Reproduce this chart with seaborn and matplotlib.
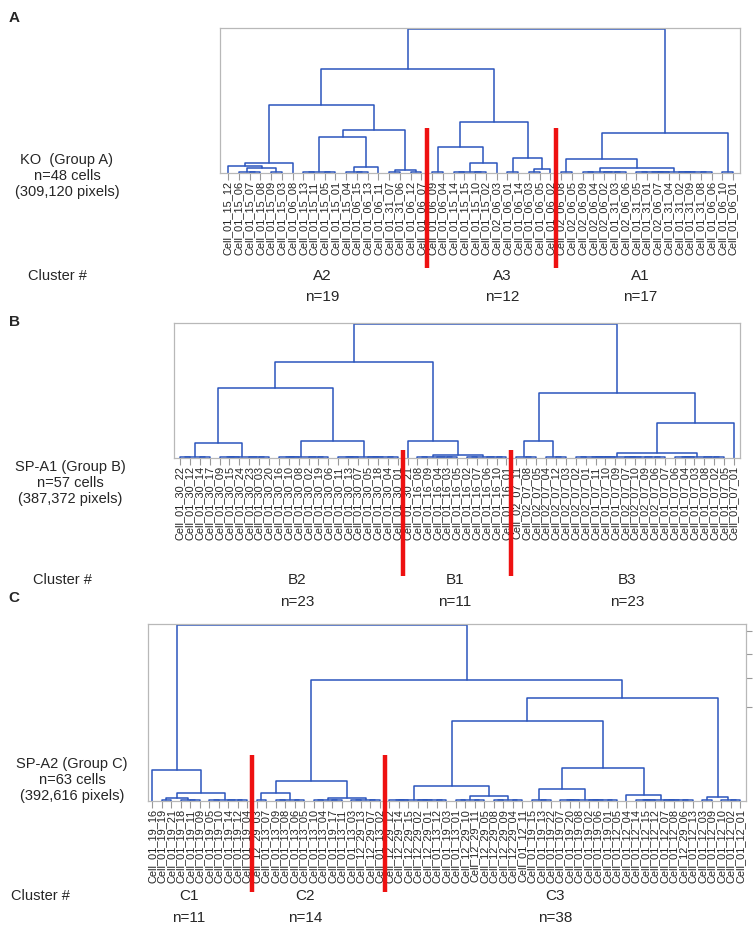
import numpy as np
import pandas as pd
import seaborn as sns
import matplotlib.pyplot as plt

sns.set_theme(style='white')
plt.rcParams['font.family'] = ['Liberation Sans', 'DejaVu Sans']

# Leaf order of each dendrogram (left to right).
a_leaves = ['01_15_12', '01_15_06', '01_15_07', '01_15_08', '01_15_09', '01_15_03', '01_06_08',
            '01_15_13', '01_15_11', '01_15_05', '01_15_01', '01_15_04', '01_06_15', '01_06_13',
            '01_06_11', '01_31_07', '01_31_06', '01_06_12', '01_06_07',
            '01_06_09', '01_06_04', '01_15_14', '01_15_15', '01_15_10', '01_15_02', '02_06_03',
            '01_06_01', '01_06_14', '01_06_03', '01_06_05', '01_06_02',
            '02_06_08', '02_06_05', '02_06_09', '02_06_04', '02_06_02', '01_31_03', '02_06_06',
            '01_31_05', '01_31_01', '02_06_07', '01_31_04', '01_31_02', '01_31_09', '01_31_08',
            '01_06_06', '01_06_10', '01_06_01']
b_leaves = ['01_30_22', '01_30_12', '01_30_14', '01_30_17', '01_30_09', '01_30_15', '01_30_24',
            '01_30_23', '01_30_03', '01_30_20', '01_30_16', '01_30_10', '01_30_08', '01_30_02',
            '01_30_19', '01_30_06', '01_30_11', '01_30_13', '01_30_07', '01_30_05', '01_30_18',
            '01_30_04', '01_30_01',
            '01_30_21', '01_16_08', '01_16_09', '01_16_04', '01_16_03', '01_16_05', '01_16_02',
            '01_16_07', '01_16_06', '01_16_10', '01_16_01',
            '02_07_11', '02_07_08', '02_07_05', '02_07_04', '02_07_12', '02_07_03', '02_07_02',
            '02_07_01', '01_07_11', '01_07_10', '01_07_09', '02_07_07', '02_07_10', '02_07_09',
            '02_07_06', '01_07_07', '01_07_06', '01_07_04', '01_07_03', '01_07_08', '01_07_02',
            '01_07_05', '01_07_01']
c_leaves = ['01_19_16', '01_19_19', '01_19_21', '01_19_18', '01_19_11', '01_19_09', '01_19_05',
            '01_19_10', '01_19_14', '01_19_12', '01_19_04',
            '12_29_03', '01_13_07', '01_13_09', '01_13_08', '01_13_06', '01_13_05', '01_13_10',
            '01_13_04', '01_19_17', '01_13_11', '01_13_03', '12_29_13', '12_29_07', '01_13_02',
            '12_29_12', '12_29_14', '12_29_15', '12_29_02', '12_29_01', '01_13_12', '01_19_03',
            '01_13_01', '12_29_10', '12_29_11', '12_29_05', '12_29_08', '12_29_09', '12_29_04',
            '01_12_11', '01_19_15', '01_19_13', '01_19_22', '01_19_07', '01_19_20', '01_19_08',
            '01_19_02', '01_19_06', '01_19_01', '01_12_05', '01_12_04', '01_12_14', '01_12_15',
            '01_12_12', '01_12_07', '01_12_08', '12_29_06', '01_12_13', '01_12_03', '01_12_09',
            '01_12_10', '01_12_02', '01_12_01']

# Merges: (first leaf, split leaf, end leaf, height in % of the top merge).
a_merges = [(0, 31, 48, 100), (0, 19, 31, 72), (0, 7, 19, 47.6), (7, 15, 19, 30),
            (7, 11, 15, 25), (11, 14, 15, 4), (15, 17, 19, 2), (0, 6, 7, 7), (0, 1, 6, 5),
            (1, 4, 6, 3.5), (19, 26, 31, 35.7), (19, 21, 26, 18), (21, 25, 26, 7),
            (26, 28, 31, 10.5), (28, 30, 31, 3),
            (31, 46, 48, 28), (31, 33, 46, 9.8), (33, 38, 46, 3.5)]
b_merges = [(0, 34, 57, 100), (0, 23, 34, 72), (0, 10, 23, 52.6), (0, 4, 10, 11.3),
            (10, 16, 23, 12.8), (23, 24, 34, 12.8), (24, 29, 34, 2), (34, 40, 57, 48.9),
            (34, 37, 40, 12.8), (40, 56, 57, 26.3), (40, 50, 56, 4)]
c_merges = [(0, 11, 63, 100), (0, 1, 11, 17.5), (1, 6, 11, 4.5), (1, 3, 6, 1.8),
            (11, 25, 63, 69), (11, 17, 25, 11.3), (11, 13, 17, 4.5), (17, 21, 25, 1.7),
            (25, 58, 63, 58.8), (25, 40, 58, 45.8), (25, 32, 40, 8.5), (32, 36, 40, 2.8),
            (40, 50, 58, 18.6), (40, 43, 50, 6.8), (50, 51, 58, 3.4), (58, 60, 63, 2.3)]

# Cluster sizes in leaf order, their names and placement of the names.
a_sizes, a_names, a_name_x = [19, 12, 17], ['A2', 'A3', 'A1'], [322, 502, 640]
b_sizes, b_names, b_name_x = [23, 11, 23], ['B2', 'B1', 'B3'], [297, 455, 627]
c_sizes, c_names, c_name_x = [11, 14, 38], ['C1', 'C2', 'C3'], [189, 305, 555]

# small marks on the right frame of panel C
c_right_ticks = [97, 83.6, 70, 53.7]

MINOR_HEIGHT = 0.8  # tiny merges hugging the baseline
LINE_BLUE = '#2b55bd'


def dendro_segments(n, merges):
    lookup = {(a, b): (m, h) for a, m, b, h in merges}
    segs = []

    def node(a, b):
        if b - a == 1:
            return float(a), 0.0
        m, h = lookup.get((a, b), ((a + b) // 2, MINOR_HEIGHT))
        xl, hl = node(a, m)
        xr, hr = node(m, b)
        segs.append([(xl, hl), (xl, h), (xr, h), (xr, hr)])
        return (xl + xr) / 2, h

    node(0, n)
    rows = []
    for i, s in enumerate(segs):
        for k, (x, y) in enumerate(s):
            rows.append({'seg': i, 'k': k, 'x': x, 'y': y})
    return pd.DataFrame(rows)


W, H = 756, 946
fig = plt.figure(figsize=(W / 100, H / 100), dpi=100)


def px_axes(x0, x1, ytop, ybase):
    return fig.add_axes([x0 / W, 1 - ybase / H, (x1 - x0) / W, (ybase - ytop) / H])


def draw_panel(ax, leaves, merges, sizes, xlim, red_top, red_bottom, right_ticks=()):
    n = len(leaves)
    df = dendro_segments(n, merges)
    sns.lineplot(data=df, x='x', y='y', units='seg', estimator=None, sort=False,
                 color=LINE_BLUE, linewidth=1.1, ax=ax, legend=False)
    ax.set_xlim(*xlim)
    ax.set_ylim(0, 100.8)
    ax.set_xticks(range(n))
    ax.set_xticklabels(['Cell_' + s for s in leaves], rotation=90, fontsize=7.9,
                       color='#222222')
    ax.tick_params(axis='x', bottom=True, length=5, width=0.8, color='#9a9a9a', pad=1)
    ax.yaxis.tick_right()
    ax.set_yticks(list(right_ticks))
    ax.set_yticklabels([])
    ax.tick_params(axis='y', right=True, length=4, width=0.8, color='#9a9a9a')
    ax.set_xlabel('')
    ax.set_ylabel('')
    for side in ['left', 'top', 'bottom', 'right']:
        ax.spines[side].set_color('#b8b8b8')
        ax.spines[side].set_linewidth(0.9)
    # red cluster separators
    edges = np.cumsum(sizes)[:-1] - 0.5
    for e in edges:
        ax.plot([e, e], [red_top, red_bottom], color='#ee1111', lw=3.2,
                clip_on=False, solid_capstyle='butt', zorder=5)


def put(x, y, s, **kw):
    kw.setdefault('fontsize', 10.5)
    kw.setdefault('ha', 'center')
    kw.setdefault('va', 'center')
    fig.text(x / W, 1 - y / H, s, **kw)


# Panel A: leaves 228..733 px
ax_a = px_axes(220, 740, 28, 173)
draw_panel(ax_a, a_leaves, a_merges, a_sizes, (-0.75, 47.65), 31, -66)
# Panel B: leaves 180..734 px
ax_b = px_axes(174, 740, 323, 458)
draw_panel(ax_b, b_leaves, b_merges, b_sizes, (-0.6, 56.6), 6, -88)
# Panel C: leaves 152..737 px
ax_c = px_axes(148, 746, 624, 801)
draw_panel(ax_c, c_leaves, c_merges, c_sizes, (-0.45, 62.6), 26, -52, c_right_ticks)

for lab, y in [('A', 18), ('B', 322), ('C', 598)]:
    put(14, y, lab, fontweight='bold', fontsize=11)

put(67, 176, 'KO  (Group A)\nn=48 cells\n(309,120 pixels)', linespacing=1.15)
put(70, 483, 'SP-A1 (Group B)\nn=57 cells\n(387,372 pixels)', linespacing=1.15)
put(72, 780, 'SP-A2 (Group C)\nn=63 cells\n(392,616 pixels)', linespacing=1.15)

for y_name, y_n, names, xs, sizes, cx in [(276, 297, a_names, a_name_x, a_sizes, 57),
                                          (580, 602, b_names, b_name_x, b_sizes, 62),
                                          (896, 918, c_names, c_name_x, c_sizes, 40)]:
    put(cx, y_name, 'Cluster #')
    for name, x, size in zip(names, xs, sizes):
        put(x, y_name, name, fontsize=11)
        put(x, y_n, f'n={size}', fontsize=11)

fig.savefig('out.png', dpi=100)
